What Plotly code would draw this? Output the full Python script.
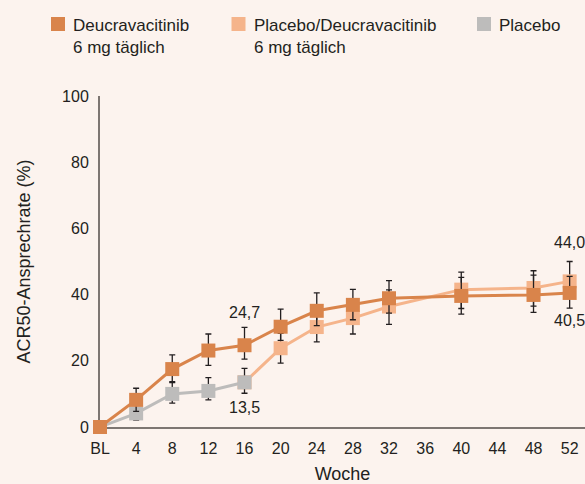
import numpy as np
import plotly.graph_objects as go

# ACR50 response over time (weeks); NaN error = no bar drawn
nan = np.nan

weeks_deuc = [0, 4, 8, 12, 16, 20, 24, 28, 32, 40, 48, 52]
resp_deuc = [0, 8.2, 17.5, 23.1, 24.7, 30.3, 35.1, 36.9, 38.9, 39.6, 39.9, 40.5]
err_up_deuc = [nan, 3.5, 4.3, 5.0, 5.4, 5.3, 5.4, 4.7, 5.3, 5.6, 6.0, 5.0]
err_dn_deuc = [nan, 3.5, 4.1, 4.5, 4.2, 4.1, 4.5, 4.5, 4.5, 5.5, 5.3, 4.6]

weeks_switch = [16, 20, 24, 28, 32, 40, 48, 52]
resp_switch = [13.5, 23.8, 30.2, 32.9, 36.4, 41.5, 42.0, 44.0]
err_up_switch = [nan, 4.5, 4.5, 4.8, 5.0, 5.3, 5.2, 6.0]
err_dn_switch = [nan, 4.5, 4.5, 4.8, 5.4, 5.7, 5.5, 5.0]

weeks_pbo = [0, 4, 8, 12, 16]
resp_pbo = [0, 4.1, 10.0, 10.9, 13.5]
err_up_pbo = [nan, 2.5, 3.7, 4.0, 4.2]
err_dn_pbo = [nan, 2.0, 2.8, 2.7, 3.3]

tick_vals = [0, 4, 8, 12, 16, 20, 24, 28, 32, 36, 40, 44, 48, 52]
tick_text = ["BL", "4", "8", "12", "16", "20", "24", "28", "32", "36", "40", "44", "48", "52"]

legend_names = ["Deucravacitinib<br>6 mg täglich",
                "Placebo/Deucravacitinib<br>6 mg täglich",
                "Placebo"]

C_DEUC = "#D9844B"
C_SWITCH = "#F5B48B"
C_PBO = "#BDBCBB"
BG = "#FCF3EE"
TXT = "#231F20"
AX = "#7D7672"
FONT = "Liberation Sans, Arial, sans-serif"


def err(up, dn):
    return dict(type="data", symmetric=False, array=up, arrayminus=dn,
                color=TXT, thickness=1.3, width=3)


fig = go.Figure()
# draw order: switch arm underneath, placebo, active arm on top
fig.add_trace(go.Scatter(x=weeks_switch, y=resp_switch, mode="lines+markers",
                         line=dict(color=C_SWITCH, width=3),
                         marker=dict(symbol="square", size=14, color=C_SWITCH),
                         error_y=err(err_up_switch, err_dn_switch),
                         cliponaxis=False, showlegend=False))
fig.add_trace(go.Scatter(x=weeks_pbo, y=resp_pbo, mode="lines+markers",
                         line=dict(color=C_PBO, width=3),
                         marker=dict(symbol="square", size=14, color=C_PBO),
                         error_y=err(err_up_pbo, err_dn_pbo),
                         cliponaxis=False, showlegend=False))
fig.add_trace(go.Scatter(x=weeks_deuc, y=resp_deuc, mode="lines+markers",
                         line=dict(color=C_DEUC, width=3),
                         marker=dict(symbol="square", size=14, color=C_DEUC),
                         error_y=err(err_up_deuc, err_dn_deuc),
                         cliponaxis=False, showlegend=False))

# value labels
num_font = dict(family=FONT, size=16, color=TXT)
labels = [
    (weeks_deuc[4], resp_deuc[4], 33),
    (weeks_pbo[4], resp_pbo[4], -25),
    (weeks_switch[-1], resp_switch[-1], 39),
    (weeks_deuc[-1], resp_deuc[-1], -28),
]
for x, y, shift in labels:
    fig.add_annotation(x=x, y=y, xref="x", yref="y", text=f"{y:.1f}".replace(".", ","),
                       showarrow=False, yshift=shift, font=num_font)

# legend drawn as squares + text above the plot
L, W, T, H = 100, 485, 96, 331


def px_x(p):
    return (p - L) / W


def px_y(p):
    return (T + H - p) / H


leg = [(58, 71, C_DEUC, legend_names[0]),
       (238.5, 252, C_SWITCH, legend_names[1]),
       (484, 497, C_PBO, legend_names[2])]
for mx, tx, col, name in leg:
    fig.add_shape(type="rect", xref="paper", yref="paper",
                  xsizemode="pixel", ysizemode="pixel",
                  xanchor=px_x(mx), yanchor=px_y(24),
                  x0=-7, x1=7, y0=-7, y1=7,
                  fillcolor=col, line=dict(width=0))
    fig.add_annotation(xref="paper", yref="paper", x=px_x(tx), y=px_y(14),
                       xanchor="left", yanchor="top", align="left",
                       text=name, showarrow=False,
                       font=dict(family=FONT, size=17, color=TXT))

fig.update_layout(
    width=585, height=484,
    margin=dict(l=L, r=0, t=T, b=484 - T - H),
    paper_bgcolor=BG, plot_bgcolor=BG,
    font=dict(family=FONT, size=16, color=TXT),
    showlegend=False,
    xaxis=dict(range=[0, 53.7], tickvals=tick_vals, ticktext=tick_text,
               showgrid=False, zeroline=False, showline=True,
               linecolor=AX, linewidth=2, ticks="", ticklabelstandoff=6,
               layer="below traces",
               title=dict(text="Woche", font=dict(size=18), standoff=14)),
    yaxis=dict(range=[0, 100], tickvals=[0, 20, 40, 60, 80, 100],
               showgrid=False, zeroline=False, showline=True,
               linecolor=AX, linewidth=2, ticks="", ticklabelstandoff=6,
               layer="below traces",
               title=dict(text="ACR50-Ansprechrate (%)", font=dict(size=18), standoff=27)),
)

fig.write_html("out.html")
